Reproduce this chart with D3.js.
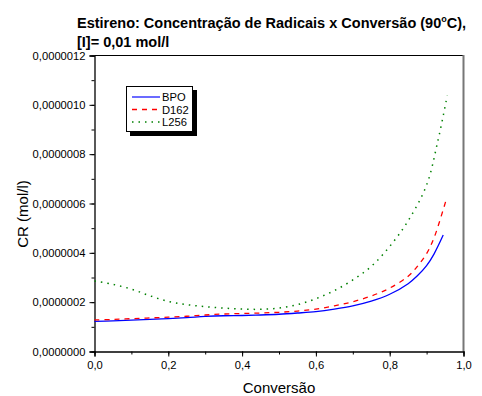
<!DOCTYPE html>
<html><head><meta charset="utf-8">
<script src="https://cdn.jsdelivr.net/npm/d3@7"></script>
<style>body{margin:0;background:#fff}svg{display:block;font-family:"Liberation Sans",Arial,sans-serif}</style>
</head><body><svg id="c" width="482" height="396"></svg>
<script>
const bpoX = [0,0.05,0.1,0.15,0.2,0.25,0.3,0.35,0.4,0.45,0.5,0.55,0.6,0.65,0.7,0.75,0.8,0.85,0.875,0.9,0.92,0.945];
const bpoY = [1.22,1.24,1.27,1.30,1.33,1.37,1.42,1.45,1.46,1.48,1.51,1.56,1.62,1.72,1.85,2.04,2.32,2.75,3.07,3.48,3.95,4.72].map(v=>v*1e-7);
const d162X = [0,0.05,0.1,0.15,0.2,0.25,0.3,0.35,0.4,0.45,0.5,0.55,0.6,0.65,0.7,0.75,0.8,0.85,0.875,0.9,0.92,0.953];
const d162Y = [1.28,1.30,1.33,1.36,1.39,1.43,1.48,1.52,1.54,1.56,1.59,1.64,1.72,1.85,2.02,2.25,2.57,3.05,3.45,3.97,4.6,6.15].map(v=>v*1e-7);
const l256X = [0,0.05,0.1,0.15,0.2,0.25,0.3,0.35,0.4,0.45,0.5,0.55,0.6,0.65,0.7,0.75,0.8,0.85,0.9,0.93,0.956];
const l256Y = [2.86,2.72,2.53,2.26,2.03,1.90,1.82,1.76,1.72,1.71,1.76,1.90,2.14,2.47,2.90,3.45,4.26,5.30,6.75,8.5,10.38].map(v=>v*1e-7);
const xTicks = [0,0.2,0.4,0.6,0.8,1.0];
const yTicks = [0,2e-7,4e-7,6e-7,8e-7,10e-7,12e-7];
const seriesNames = ["BPO","D162","L256"];

const svg = d3.select("#c");
const L=94.5, R=463.5, T=55.5, B=351.5;
const x = d3.scaleLinear().domain([0,1]).range([L,R]);
const y = d3.scaleLinear().domain([0,12e-7]).range([B,T]);
const fmtX = d=>d3.format(".1f")(d).replace(".",",");
const fmtY = d=>d3.format(".7f")(d).replace(".",",");

// frame
svg.append("line").attr("x1",L).attr("x2",R).attr("y1",T).attr("y2",T).attr("stroke","#000");
svg.append("line").attr("x1",R).attr("x2",R).attr("y1",T-0.5).attr("y2",B).attr("stroke","#777").attr("stroke-width",2);

// minor ticks
const gx = svg.append("g").attr("transform",`translate(0,${B})`);
gx.call(d3.axisBottom(x).tickValues(d3.range(0,11).map(i=>i/10)).tickSize(3).tickFormat(""));
gx.call(g=>g.select(".domain").remove());
const gx2 = svg.append("g").attr("transform",`translate(0,${B})`)
  .call(d3.axisBottom(x).tickValues(xTicks).tickSize(5).tickPadding(5).tickFormat(fmtX));
gx2.selectAll("text").attr("font-size","11.2px").attr("fill","#000").attr("font-family","Liberation Sans, Arial, sans-serif");
const gy = svg.append("g").attr("transform",`translate(${L},0)`);
gy.call(d3.axisLeft(y).tickValues(d3.range(0,13).map(i=>i*1e-7)).tickSize(3).tickFormat(""));
gy.call(g=>g.select(".domain").remove());
const gy2 = svg.append("g").attr("transform",`translate(${L},0)`)
  .call(d3.axisLeft(y).tickValues(yTicks).tickSize(5).tickPadding(4).tickFormat(fmtY));
gy2.selectAll("text").attr("font-size","11.2px").attr("fill","#000").attr("font-family","Liberation Sans, Arial, sans-serif");
svg.selectAll(".domain").attr("stroke","#000").attr("stroke-width",1.3);
svg.selectAll(".tick line").attr("stroke","#000");

// lines
const line = d3.line().x(d=>x(d[0])).y(d=>y(d[1])).curve(d3.curveCatmullRom.alpha(0.5));
const data = [
  {name:seriesNames[0], pts:d3.zip(bpoX,bpoY), color:"#0000ff", dash:null, w:1.3},
  {name:seriesNames[1], pts:d3.zip(d162X,d162Y), color:"#ff0000", dash:"5,5", w:1.3},
  {name:seriesNames[2], pts:d3.zip(l256X,l256Y), color:"#008000", dash:"1.5,5", w:1.5},
];
data.forEach(s=>{
  svg.append("path").attr("d",line(s.pts)).attr("fill","none").attr("stroke",s.color)
    .attr("stroke-width",s.w).attr("stroke-dasharray",s.dash);
});

// legend
const lg = svg.append("g");
lg.append("rect").attr("x",130).attr("y",90).attr("width",67).attr("height",46).attr("fill","#000");
lg.append("rect").attr("x",126.5).attr("y",86.5).attr("width",66).attr("height",45).attr("fill","#fff").attr("stroke","#000");
data.forEach((s,i)=>{
  const yy = 97 + i*12.5;
  lg.append("line").attr("x1",132).attr("x2",160).attr("y1",yy).attr("y2",yy)
    .attr("stroke", i===0?"#6b6bff":s.color).attr("stroke-width",i===0?2:1.3).attr("stroke-dasharray",s.dash);
  lg.append("text").attr("x",162).attr("y",yy+4).attr("font-size","11.2px").text(s.name);
});

// titles
const t = svg.append("text").attr("x",77).attr("y",28).attr("font-size","14.5px").attr("font-weight","bold");
t.append("tspan").text("Estireno: Concentração de Radicais x Conversão (90");
t.append("tspan").attr("font-size","9px").attr("dy",-6).text("o");
t.append("tspan").attr("dy",6).text("C),");
svg.append("text").attr("x",77).attr("y",47).attr("font-size","14.5px").attr("font-weight","bold").text("[I]= 0,01 mol/l");
svg.append("text").attr("x",(L+R)/2).attr("y",393).attr("text-anchor","middle").attr("font-size","15px").text("Conversão");
svg.append("text").attr("transform","translate(28,214) rotate(-90)").attr("text-anchor","middle").attr("font-size","15px").text("CR (mol/l)");
</script></body></html>
